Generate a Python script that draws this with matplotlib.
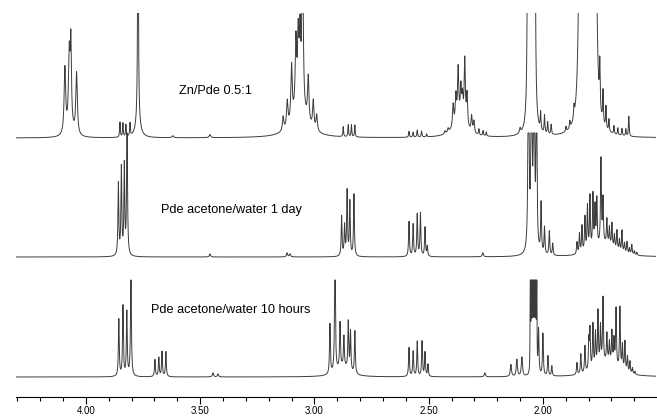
import numpy as np
import matplotlib
matplotlib.use('Agg')
import matplotlib.pyplot as plt
from matplotlib.ticker import FixedLocator, FixedFormatter

plt.rcParams['font.family'] = ['Liberation Sans', 'DejaVu Sans']

# peaks: (ppm, height, half width at half height)
top_peaks = [
    (4.092, 66, 0.004), (4.073, 72, 0.004), (4.066, 78, 0.003), (4.041, 62, 0.004),
    (4.068, 10, 0.012),
    (3.851, 15, 0.0018), (3.838, 14, 0.0018), (3.825, 12, 0.0018), (3.807, 13, 0.0018),
    (3.772, 260, 0.002), (3.772, 15, 0.012),
    (3.620, 2, 0.004), (3.457, 3, 0.004),
    (3.137, 14, 0.0035), (3.119, 26, 0.0035), (3.100, 55, 0.0035), (3.081, 68, 0.0035),
    (3.071, 66, 0.0035), (3.063, 66, 0.0035), (3.052, 200, 0.003), (3.027, 45, 0.0035),
    (3.005, 28, 0.0035), (2.990, 16, 0.0035), (3.065, 30, 0.035),
    (2.874, 10, 0.0018), (2.852, 12, 0.0018), (2.838, 12, 0.0018), (2.823, 12, 0.0018),
    (2.586, 6, 0.002), (2.568, 5, 0.002), (2.550, 7, 0.002), (2.531, 6, 0.002), (2.509, 3, 0.002),
    (2.429, 3, 0.003), (2.415, 4, 0.003), (2.393, 22, 0.003), (2.381, 26, 0.003),
    (2.371, 50, 0.003), (2.359, 30, 0.003), (2.352, 22, 0.003), (2.342, 64, 0.003),
    (2.332, 32, 0.003), (2.312, 16, 0.003), (2.302, 12, 0.003), (2.365, 18, 0.03),
    (2.280, 6, 0.002), (2.262, 5, 0.002), (2.248, 4, 0.002), (2.100, 5, 0.003),
    (2.064, 1500, 0.0015), (2.050, 1500, 0.0015), (2.037, 1500, 0.0015),
    (2.010, 18, 0.002), (1.993, 18, 0.002), (1.979, 12, 0.002), (1.964, 10, 0.002),
    (1.899, 5, 0.002), (1.882, 7, 0.002), (1.864, 12, 0.002),
    (1.838, 250, 0.006), (1.821, 250, 0.006), (1.803, 250, 0.006),
    (1.786, 250, 0.006), (1.770, 250, 0.006),
    (1.751, 45, 0.0018), (1.737, 32, 0.0018), (1.724, 22, 0.0018), (1.711, 12, 0.0018),
    (1.689, 8, 0.0018), (1.672, 7, 0.0018), (1.654, 7, 0.0018), (1.637, 7, 0.0018),
    (1.624, 20, 0.0018),
]

mid_peaks = [
    (3.858, 72, 0.0022), (3.845, 87, 0.0022), (3.832, 89, 0.0022), (3.820, 140, 0.0022),
    (3.457, 3, 0.003), (3.120, 4, 0.003), (3.107, 3, 0.003),
    (2.881, 40, 0.0022), (2.868, 30, 0.0022), (2.857, 65, 0.0022),
    (2.845, 54, 0.0022), (2.827, 62, 0.0022),
    (2.586, 35, 0.0022), (2.568, 32, 0.0022), (2.550, 42, 0.0022),
    (2.536, 43, 0.0022), (2.516, 29, 0.0022), (2.506, 10, 0.0022),
    (2.263, 4, 0.003),
    (2.063, 300, 0.0022), (2.050, 300, 0.0022), (2.039, 300, 0.0022), (2.028, 200, 0.0022),
    (2.008, 50, 0.0022), (1.993, 27, 0.0022), (1.972, 24, 0.0022), (1.957, 12, 0.0022),
    (1.851, 12, 0.0022), (1.840, 20, 0.0022), (1.829, 27, 0.0022), (1.816, 35, 0.0022),
    (1.805, 45, 0.0022), (1.794, 54, 0.0022), (1.781, 54, 0.0022), (1.772, 40, 0.0022),
    (1.764, 47, 0.0022), (1.746, 85, 0.0022), (1.737, 44, 0.0022), (1.720, 25, 0.0022),
    (1.709, 18, 0.0022), (1.698, 24, 0.0022), (1.687, 14, 0.0022), (1.676, 20, 0.0022),
    (1.665, 12, 0.0022), (1.654, 22, 0.0022), (1.643, 10, 0.0022), (1.632, 12, 0.0022),
    (1.621, 6, 0.0022), (1.611, 10, 0.0022), (1.600, 4, 0.0022), (1.589, 3, 0.0022),
    (1.73, 12, 0.05),
]

bot_peaks = [
    (3.856, 57, 0.0022), (3.838, 70, 0.0022), (3.821, 64, 0.0022), (3.803, 110, 0.0022),
    (3.698, 17, 0.0022), (3.681, 19, 0.0022), (3.667, 25, 0.0022), (3.650, 25, 0.0022),
    (3.444, 4, 0.003), (3.422, 3, 0.003),
    (2.932, 50, 0.0022), (2.910, 130, 0.0022), (2.888, 45, 0.0022), (2.871, 30, 0.0022),
    (2.852, 48, 0.0022), (2.842, 40, 0.0022), (2.823, 43, 0.0022), (2.875, 10, 0.03),
    (2.586, 29, 0.0022), (2.568, 25, 0.0022), (2.550, 35, 0.0022),
    (2.529, 35, 0.0022), (2.516, 24, 0.0022), (2.503, 12, 0.0022),
    (2.254, 4, 0.003),
    (2.140, 12, 0.003), (2.114, 17, 0.003), (2.092, 19, 0.003),
    (2.055, 300, 0.0006), (2.051, 300, 0.0006), (2.047, 300, 0.0006), (2.043, 300, 0.0006),
    (2.039, 300, 0.0006), (2.035, 300, 0.0006), (2.031, 300, 0.0006), (2.027, 300, 0.0006),
    (2.019, 45, 0.0022), (2.000, 42, 0.0022), (1.978, 20, 0.0022), (1.961, 10, 0.0022),
    (1.851, 12, 0.0022), (1.834, 20, 0.0022), (1.816, 27, 0.0022), (1.799, 30, 0.0022),
    (1.794, 40, 0.0022), (1.781, 45, 0.0022), (1.770, 35, 0.0022), (1.759, 55, 0.0022),
    (1.748, 38, 0.0022), (1.737, 65, 0.0022), (1.720, 28, 0.0022), (1.709, 20, 0.0022),
    (1.698, 32, 0.0022), (1.689, 25, 0.0022), (1.680, 58, 0.0022), (1.663, 62, 0.0022),
    (1.652, 25, 0.0022), (1.641, 30, 0.0022), (1.630, 16, 0.0022), (1.619, 12, 0.0022),
    (1.608, 6, 0.0022), (1.597, 3, 0.0022),
    (1.72, 14, 0.05),
]

labels = ["Zn/Pde 0.5:1", "Pde acetone/water 1 day", "Pde acetone/water 10 hours"]
major_ticks = [4.00, 3.50, 3.00, 2.50, 2.00]
tick_labels = ["4.00", "3.50", "3.00", "2.50", "2.00"]
minor_ticks = [4.30, 4.20, 4.10, 3.90, 3.80, 3.70, 3.60, 3.40, 3.30, 3.20, 3.10,
               2.90, 2.80, 2.70, 2.60, 2.40, 2.30, 2.20, 2.10, 1.90, 1.80, 1.70, 1.60]

ppm = np.linspace(4.31, 1.50, 60000)


def spectrum(peaks):
    y = np.zeros_like(ppm)
    for pos, h, w in peaks:
        y += h / (1 + ((ppm - pos) / w) ** 2)
    return y


fig = plt.figure(figsize=(6.57, 4.18), dpi=100)
ax = fig.add_axes([16 / 657, 21 / 418, 640 / 657, 384 / 418])

# baseline offset and display cap for each trace (in pixel units)
traces = [(top_peaks, 259, 200), (mid_peaks, 140, 124), (bot_peaks, 20, 97)]
for peaks, base, cap in traces:
    ax.plot(ppm, base + np.minimum(spectrum(peaks), cap), color='#3c3c3c', linewidth=0.7)

ax.text(3.431, 306, labels[0], ha='center', va='center', fontsize=9.2)
ax.text(3.363, 187, labels[1], ha='center', va='center', fontsize=9.2)
ax.text(3.365, 87, labels[2], ha='center', va='center', fontsize=9.2)

ax.set_xlim(4.306, 1.505)
ax.set_ylim(0, 384)
for side in ['top', 'left', 'right']:
    ax.spines[side].set_visible(False)
ax.spines['bottom'].set_linewidth(0.8)
ax.set_yticks([])
ax.xaxis.set_major_locator(FixedLocator(major_ticks))
ax.xaxis.set_major_formatter(FixedFormatter(tick_labels))
ax.xaxis.set_minor_locator(FixedLocator(minor_ticks))
ax.tick_params(axis='x', which='major', length=5, width=0.8, labelsize=7, pad=1.5)
ax.tick_params(axis='x', which='minor', length=3, width=0.8)

plt.savefig("out.png", dpi=100)
